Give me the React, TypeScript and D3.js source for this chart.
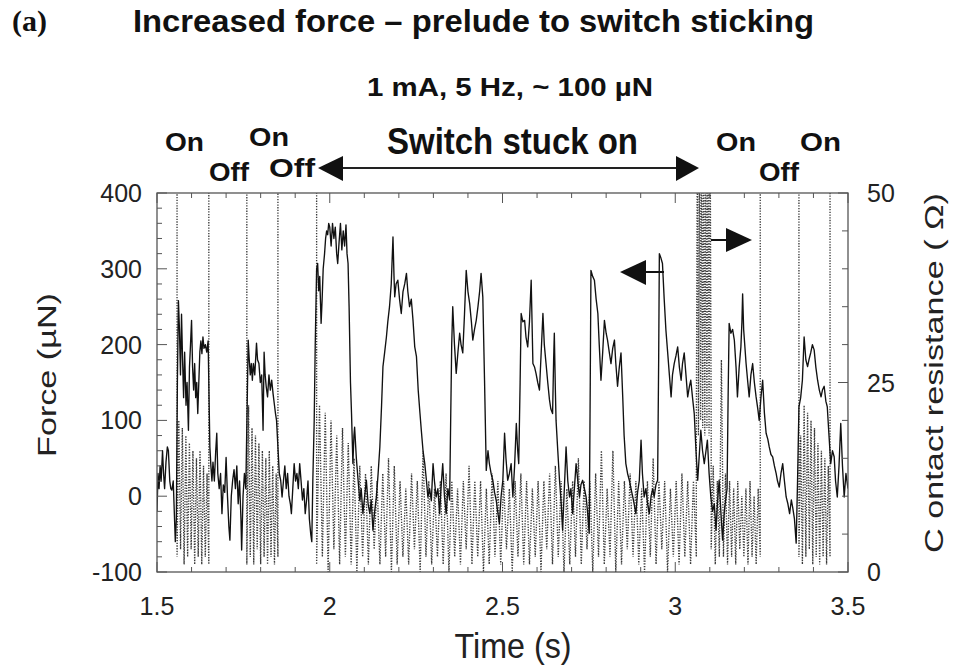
import React from "react";
import * as d3 from "d3";

// Force trace (time s, force µN)
const forceSeries: [number, number][] = [
  [1.5, -20], [1.503, 30], [1.506, 10], [1.509, 40], [1.512, 20], [1.516, 60], [1.519, 30], [1.522, 10],
  [1.526, 45], [1.53, 65], [1.533, 60], [1.537, 20], [1.54, 10], [1.543, 8], [1.547, 20], [1.55, -20],
  [1.553, -60], [1.556, -30], [1.559, 150], [1.562, 258], [1.565, 220], [1.568, 160], [1.571, 240], [1.574, 180],
  [1.577, 130], [1.58, 190], [1.584, 120], [1.587, 150], [1.591, 87], [1.594, 170], [1.597, 200], [1.6, 232],
  [1.603, 170], [1.606, 140], [1.609, 175], [1.612, 130], [1.615, 150], [1.618, 109], [1.621, 150], [1.624, 190],
  [1.627, 205], [1.63, 188], [1.633, 210], [1.636, 195], [1.64, 200], [1.644, 190], [1.648, 205], [1.651, 120],
  [1.653, 65], [1.656, 40], [1.659, 20], [1.662, 45], [1.666, 20], [1.67, 60], [1.673, 83], [1.676, 30],
  [1.68, 10], [1.684, 30], [1.688, -23], [1.692, 15], [1.696, 5], [1.7, 51], [1.704, 0], [1.708, -40],
  [1.711, -58], [1.715, 0], [1.719, 21], [1.723, 35], [1.727, 10], [1.731, 40], [1.735, -10], [1.739, 20],
  [1.743, -30], [1.745, -71], [1.749, 0], [1.753, 30], [1.757, 10], [1.761, 120], [1.764, 206], [1.767, 180],
  [1.77, 160], [1.773, 175], [1.776, 153], [1.779, 175], [1.783, 160], [1.788, 202], [1.791, 180], [1.795, 175],
  [1.799, 150], [1.803, 160], [1.807, 87], [1.81, 190], [1.813, 160], [1.816, 145], [1.82, 131], [1.824, 160],
  [1.828, 140], [1.832, 153], [1.836, 135], [1.84, 120], [1.843, 109], [1.846, 100], [1.851, 56], [1.854, 30],
  [1.858, 21], [1.862, -1], [1.866, 20], [1.87, 40], [1.874, 10], [1.878, 30], [1.882, 0], [1.886, -10],
  [1.889, -23], [1.893, 10], [1.897, 43], [1.901, 20], [1.905, 30], [1.909, 10], [1.913, 43], [1.917, 20],
  [1.921, -5], [1.925, 10], [1.929, -23], [1.933, -5], [1.937, 20], [1.941, -30], [1.945, -50], [1.948, -60],
  [1.951, 20], [1.955, 100], [1.958, 200], [1.962, 300], [1.965, 307], [1.968, 271], [1.971, 290], [1.975, 228],
  [1.978, 260], [1.981, 300], [1.985, 320], [1.988, 340], [1.991, 350], [1.994, 345], [1.997, 360], [2.0, 355],
  [2.004, 330], [2.008, 360], [2.012, 340], [2.016, 355], [2.02, 320], [2.023, 307], [2.027, 335], [2.031, 360],
  [2.035, 325], [2.039, 350], [2.043, 330], [2.047, 358], [2.05, 320], [2.053, 307], [2.056, 250], [2.06, 150],
  [2.063, 109], [2.067, 43], [2.07, 80], [2.072, 91], [2.077, 50], [2.082, 21], [2.087, -6], [2.091, 10],
  [2.096, -23], [2.101, 0], [2.106, 21], [2.111, -10], [2.116, -23], [2.12, -5], [2.125, -45], [2.13, -20],
  [2.135, -1], [2.14, 30], [2.145, 65], [2.15, 120], [2.154, 171], [2.159, 190], [2.164, 210], [2.168, 230],
  [2.173, 250], [2.178, 280], [2.183, 342], [2.186, 290], [2.188, 263], [2.192, 280], [2.197, 285], [2.202, 260],
  [2.207, 241], [2.212, 270], [2.217, 280], [2.222, 294], [2.226, 270], [2.231, 250], [2.236, 260], [2.241, 232],
  [2.246, 197], [2.251, 184], [2.256, 140], [2.261, 110], [2.265, 87], [2.27, 60], [2.275, 43], [2.28, 20],
  [2.284, -1], [2.289, 10], [2.294, -6], [2.299, 43], [2.303, 20], [2.308, -1], [2.313, 10], [2.318, -23],
  [2.322, 10], [2.327, 43], [2.332, 0], [2.337, -23], [2.342, 10], [2.347, -5], [2.35, 100], [2.353, 200],
  [2.356, 250], [2.361, 200], [2.366, 162], [2.371, 190], [2.376, 215], [2.38, 200], [2.385, 189], [2.39, 240],
  [2.395, 298], [2.4, 270], [2.405, 254], [2.41, 230], [2.414, 206], [2.419, 220], [2.424, 232], [2.429, 250],
  [2.434, 271], [2.438, 294], [2.443, 263], [2.448, 153], [2.453, 34], [2.458, 60], [2.462, 43], [2.467, 30],
  [2.472, 21], [2.477, 5], [2.482, -6], [2.486, -20], [2.491, -36], [2.496, 0], [2.501, 21], [2.506, 83],
  [2.51, 50], [2.515, 21], [2.52, 30], [2.525, 43], [2.53, -1], [2.535, 40], [2.54, 96], [2.544, 60],
  [2.547, 43], [2.551, 150], [2.554, 241], [2.559, 230], [2.564, 232], [2.568, 210], [2.573, 197], [2.578, 230],
  [2.583, 285], [2.588, 175], [2.593, 170], [2.597, 162], [2.602, 150], [2.607, 140], [2.612, 190], [2.617, 241],
  [2.621, 200], [2.626, 175], [2.631, 150], [2.636, 127], [2.64, 115], [2.645, 109], [2.648, 180], [2.65, 215],
  [2.653, 140], [2.655, 100], [2.66, 60], [2.665, 21], [2.67, -10], [2.674, -45], [2.679, 10], [2.684, 65],
  [2.689, 20], [2.694, -1], [2.698, 10], [2.703, -23], [2.708, 10], [2.713, 43], [2.718, 20], [2.723, -1],
  [2.727, 15], [2.732, 21], [2.737, 10], [2.742, -1], [2.746, -20], [2.751, -49], [2.754, 150], [2.756, 298],
  [2.761, 290], [2.766, 285], [2.771, 260], [2.776, 241], [2.78, 200], [2.785, 153], [2.79, 190], [2.795, 232],
  [2.8, 215], [2.804, 206], [2.809, 190], [2.814, 175], [2.819, 195], [2.824, 206], [2.828, 175], [2.833, 145],
  [2.838, 170], [2.843, 189], [2.848, 131], [2.852, 80], [2.857, 43], [2.862, 30], [2.867, 21], [2.872, 10],
  [2.877, -1], [2.881, -10], [2.886, -23], [2.891, 5], [2.896, 21], [2.901, 74], [2.905, 30], [2.91, -1],
  [2.915, 10], [2.92, -10], [2.925, -23], [2.93, 0], [2.935, 10], [2.939, -1], [2.944, 15], [2.949, 21],
  [2.952, 180], [2.954, 320], [2.958, 315], [2.963, 307], [2.968, 260], [2.973, 219], [2.978, 190], [2.983, 160],
  [2.988, 131], [2.992, 160], [2.997, 175], [3.002, 185], [3.007, 197], [3.012, 170], [3.017, 153], [3.021, 175],
  [3.026, 189], [3.031, 160], [3.036, 131], [3.041, 145], [3.045, 153], [3.05, 130], [3.055, 109], [3.06, 60],
  [3.065, 21], [3.069, 50], [3.074, 87], [3.079, 60], [3.084, 43], [3.089, 60], [3.093, 74], [3.098, 30],
  [3.103, -1], [3.108, -20], [3.113, -10], [3.118, -45], [3.122, -10], [3.127, 21], [3.132, -20], [3.137, -58],
  [3.142, -20], [3.147, -1], [3.15, 10], [3.153, 130], [3.156, 228], [3.161, 215], [3.166, 220], [3.171, 206],
  [3.176, 170], [3.18, 131], [3.185, 170], [3.19, 197], [3.193, 230], [3.195, 267], [3.198, 220], [3.205, 175],
  [3.21, 150], [3.214, 131], [3.219, 160], [3.224, 175], [3.229, 150], [3.234, 131], [3.239, 115], [3.243, 100],
  [3.248, 130], [3.253, 153], [3.258, 110], [3.263, 83], [3.268, 75], [3.272, 65], [3.277, 55], [3.282, 52],
  [3.287, 40], [3.292, 30], [3.296, 20], [3.301, 12], [3.306, 30], [3.311, 43], [3.316, 20], [3.321, -1],
  [3.326, -10], [3.331, -23], [3.336, -5], [3.34, -15], [3.345, -30], [3.35, -62], [3.354, 20], [3.358, 118],
  [3.363, 130], [3.368, 153], [3.373, 210], [3.378, 180], [3.383, 171], [3.387, 180], [3.392, 189], [3.397, 200],
  [3.402, 193], [3.407, 170], [3.412, 153], [3.417, 140], [3.422, 131], [3.426, 140], [3.431, 145], [3.436, 125],
  [3.44, 118], [3.445, 80], [3.45, 43], [3.455, 60], [3.46, 52], [3.464, 20], [3.469, -1], [3.474, 40],
  [3.479, 96], [3.484, 40], [3.489, -1], [3.494, 30], [3.5, 10],
];

// Contact resistance (Ω): segments of the record; 60 = open (off scale)
const resOff = [60, 60];
const resOn1 = [2, 20, 3, 19, 1, 18, 2, 17, 3, 16, 1, 15, 2, 16, 1, 14, 2, 13, 1];
const resOn2 = [1, 22, 2, 19, 1, 18, 3, 17, 1, 16, 2, 15, 1, 16, 2, 14, 1, 13, 2];
const resStuck = [
  1, 22, 2, 21, 0, 20, 3, 18, 1, 19, 2, 17, 1, 15, 0, 14, 2, 13, 1, 14, 3, 12, 1, 13, 2, 15, 0, 14, 1, 12,
  2, 11, 1, 13, 3, 12, 0, 16, 2, 12, 1, 11, 2, 12, 1, 13, 0, 12, 2, 11, 1, 12, 3, 14, 1, 12, 2, 12, 0, 11,
  1, 13, 2, 12, 1, 12, 3, 11, 0, 12, 2, 13, 1, 12, 1, 11, 2, 12, 0, 12, 3, 13, 1, 14, 2, 12, 0, 11, 1, 12,
  2, 15, 1, 12, 3, 12, 0, 13, 2, 16, 1, 11, 2, 16, 0, 12, 1, 12, 3, 13, 2, 12, 1, 11, 0, 12, 2, 15, 1, 12,
  3, 12, 0, 11, 2, 12, 1, 13, 2, 12, 1, 12, 2,
];
const resChatter = [19, 60, 18, 60, 20, 60, 19, 60, 18, 60, 19, 60, 18, 60, 19];
const resOn3 = [3, 14, 1, 12, 2, 28, 2, 13, 1, 12, 2, 11, 1, 12, 3, 10, 2, 11, 1, 12, 2, 10, 1, 11, 2];
const resOn4 = [2, 18, 1, 22, 2, 21, 3, 20, 1, 19, 2, 17, 1, 16, 2, 15, 1, 14, 2];
const resSegmentTimes: [number, number][] = [
  [1.5, 1.558], [1.558, 1.65], [1.65, 1.76], [1.76, 1.85], [1.85, 1.962], [1.962, 3.061],
  [3.061, 3.104], [3.104, 3.246], [3.246, 3.358], [3.358, 3.448], [3.448, 3.5],
];
const resSegmentValues = [resOff, resOn1, resOff, resOn2, resOff, resStuck, resChatter, resOn3, resOff, resOn4, resOff];

const xMajorTicks = [1.5, 2, 2.5, 3, 3.5];
const xTickLabels = ["1.5", "2", "2.5", "3", "3.5"];
const forceTicks = [-100, 0, 100, 200, 300, 400];
const resTicks = [0, 25, 50];

const FONT = "'Liberation Sans', Arial, Helvetica, sans-serif";

export default function App() {
  const W = 956, H = 672;
  const L = 157, R = 848, T = 193, B = 572;
  const x = d3.scaleLinear().domain([1.5, 3.5]).range([L, R]);
  const yF = d3.scaleLinear().domain([-100, 400]).range([B, T]);
  const yR = d3.scaleLinear().domain([0, 50]).range([B, T]);

  const resPoints: [number, number][] = [];
  resSegmentTimes.forEach(([t0, t1], k) => {
    const vals = resSegmentValues[k];
    const n = vals.length;
    vals.forEach((v, i) => resPoints.push([t0 + ((t1 - t0) * i) / (n - 1), v]));
  });

  const forceLine = d3.line<[number, number]>().x((d) => x(d[0])).y((d) => yF(d[1]));
  const resLine = d3.line<[number, number]>().x((d) => x(d[0])).y((d) => yR(d[1]));

  const xMinor = d3.range(15, 36).map((v) => v / 10);
  const fMinor = d3.range(-100, 401, 20);
  const rMinor = d3.range(0, 51, 5);

  const boxColor = "#555";
  const stateLabels = [
    { t: "On", x: 165, y: 151, w: 39 },
    { t: "Off", x: 209, y: 181, w: 40 },
    { t: "On", x: 249, y: 146, w: 40 },
    { t: "Off", x: 269, y: 177, w: 46 },
    { t: "On", x: 716, y: 151, w: 40 },
    { t: "Off", x: 759, y: 181, w: 40 },
    { t: "On", x: 800, y: 151, w: 41 },
  ];

  return (
    <svg width={W} height={H} style={{ position: "absolute", left: 0, top: 0, background: "#fff" }}>
      <defs>
        <clipPath id="plotClip">
          <rect x={L} y={T} width={R - L} height={B - T} />
        </clipPath>
      </defs>
      <rect x={0} y={0} width={W} height={H} fill="#fff" />

      {/* titles */}
      <text x={12} y={31} fontFamily="'Liberation Serif', 'Times New Roman', serif" fontWeight="bold" fontSize={29} textLength={35} lengthAdjust="spacingAndGlyphs" fill="#111">(a)</text>
      <text x={133} y={32} fontFamily={FONT} fontWeight="bold" fontSize={32} textLength={681} lengthAdjust="spacingAndGlyphs" fill="#111">Increased force – prelude to switch sticking</text>
      <text x={367} y={96} fontFamily={FONT} fontWeight="bold" fontSize={25} textLength={286} lengthAdjust="spacingAndGlyphs" fill="#111">1 mA, 5 Hz, ~ 100 µN</text>
      <text x={387} y={154} fontFamily={FONT} fontWeight="bold" fontSize={36} textLength={251} lengthAdjust="spacingAndGlyphs" fill="#111">Switch stuck on</text>
      {stateLabels.map((s, i) => (
        <text key={i} x={s.x} y={s.y} fontFamily={FONT} fontWeight="bold" fontSize={26} textLength={s.w} lengthAdjust="spacingAndGlyphs" fill="#111">{s.t}</text>
      ))}

      {/* double arrow */}
      <line x1={335} x2={685} y1={168} y2={168} stroke="#222" strokeWidth={2.2} />
      <polygon points="318,168 343,156 343,181" fill="#111" />
      <polygon points="699,168 676,156 676,181" fill="#111" />

      {/* series */}
      <g clipPath="url(#plotClip)">
        <path d={resLine(resPoints) || ""} fill="none" stroke="#3a3a3a" strokeWidth={1.35} strokeDasharray="1.3 1.4" />
        <path d={forceLine(forceSeries) || ""} fill="none" stroke="#111" strokeWidth={1.35} strokeLinejoin="round" />
      </g>

      {/* small arrows */}
      <line x1={643} x2={664} y1={272} y2={272} stroke="#111" strokeWidth={2} />
      <polygon points="620,272 646,260 646,285" fill="#111" />
      <line x1={711} x2={730} y1={240} y2={240} stroke="#111" strokeWidth={2} />
      <polygon points="752,240 726,228 726,252" fill="#111" />

      {/* box */}
      <rect x={L} y={T} width={R - L} height={B - T} fill="none" stroke={boxColor} strokeWidth={1.3} />

      {/* ticks */}
      {xMinor.map((t, i) => {
        const major = Math.abs(t * 2 - Math.round(t * 2)) < 1e-6;
        const len = major ? 10 : 5;
        return (
          <g key={"xt" + i} stroke={boxColor} strokeWidth={1}>
            <line x1={x(t)} x2={x(t)} y1={B} y2={B - len} />
            <line x1={x(t)} x2={x(t)} y1={T} y2={T + len} />
          </g>
        );
      })}
      {fMinor.map((v, i) => {
        const major = v % 100 === 0;
        return <line key={"ft" + i} x1={L} x2={L + (major ? 10 : 5)} y1={yF(v)} y2={yF(v)} stroke={boxColor} strokeWidth={1} />;
      })}
      {rMinor.map((v, i) => {
        const major = v % 25 === 0;
        return <line key={"rt" + i} x1={R} x2={R - (major ? 10 : 6)} y1={yR(v)} y2={yR(v)} stroke={boxColor} strokeWidth={1} />;
      })}

      {/* tick labels */}
      {xMajorTicks.map((t, i) => (
        <text key={"xl" + i} x={x(t)} y={615} textAnchor="middle" fontFamily={FONT} fontSize={25} fill="#222">{xTickLabels[i]}</text>
      ))}
      {forceTicks.map((v) => (
        <text key={"fl" + v} x={142} y={yF(v) + 9} textAnchor="end" fontFamily={FONT} fontSize={25} fill="#222">{v}</text>
      ))}
      {resTicks.map((v) => (
        <text key={"rl" + v} x={867} y={yR(v) + 9} textAnchor="start" fontFamily={FONT} fontSize={25} fill="#222">{v}</text>
      ))}

      {/* axis titles */}
      <text x={513} y={658} textAnchor="middle" fontFamily={FONT} fontSize={35} textLength={117} lengthAdjust="spacingAndGlyphs" fill="#222">Time (s)</text>
      <text transform="translate(56,375) rotate(-90)" textAnchor="middle" fontFamily={FONT} fontSize={26} textLength={164} lengthAdjust="spacingAndGlyphs" fill="#222">Force (µN)</text>
      <text transform="translate(943,373) rotate(-90)" textAnchor="middle" fontFamily={FONT} fontSize={26} textLength={360} lengthAdjust="spacingAndGlyphs" fill="#222">C ontact resistance ( Ω)</text>
    </svg>
  );
}
